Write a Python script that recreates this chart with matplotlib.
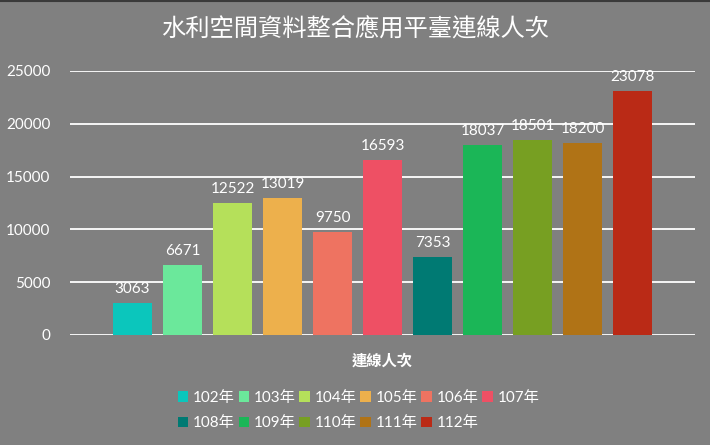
import matplotlib.pyplot as plt
from matplotlib.patches import Patch

plt.rcParams['font.family'] = ['Lato', 'Noto Sans CJK TC', 'DejaVu Sans']

# data
years = ['102年', '103年', '104年', '105年', '106年', '107年',
         '108年', '109年', '110年', '111年', '112年']
values = [3063, 6671, 12522, 13019, 9750, 16593, 7353, 18037, 18501, 18200, 23078]
colors = ['#0BC6BC', '#6BE89B', '#B5E05A', '#EDB04C', '#EE7361', '#EE5064',
          '#007A73', '#1BB657', '#779F22', '#B07316', '#BA2A16']
yticks = [0, 5000, 10000, 15000, 20000, 25000]

bg = '#808080'
fig = plt.figure(figsize=(7.1, 4.45), dpi=100, facecolor=bg)
ax = fig.add_axes([70 / 710, 110 / 445, 625 / 710, 264 / 445])
ax.set_facecolor(bg)

# gridlines behind bars
for t in yticks:
    ax.axhline(t, color='white', lw=1.3, zorder=1)

xs = list(range(len(values)))
bars = ax.bar(xs, values, width=0.78, color=colors, zorder=2)
for x, v in zip(xs, values):
    ax.annotate(str(v), (x, v), xytext=(0, 5), textcoords='offset points',
                ha='center', va='bottom', color='white', fontsize=11, zorder=3)

ax.set_xlim(-1.25, len(values) - 1 + 1.25)
ax.set_ylim(0, 25000)
ax.set_yticks(yticks)
ax.set_yticklabels([str(t) for t in yticks], color='white', fontsize=11)
ax.tick_params(axis='y', length=0, pad=14)
ax.set_xticks([])
for s in ax.spines.values():
    s.set_visible(False)

ax.set_xlabel('連線人次', color='white', fontsize=11, fontweight='bold', labelpad=14)

fig.text(0.5, 0.935, '水利空間資料整合應用平臺連線人次', ha='center', va='center',
         color='white', fontsize=17.5)

# legend, row-major order across two rows
handles = [Patch(facecolor=c, edgecolor='none') for c in colors]
order = [0, 6, 1, 7, 2, 8, 3, 9, 4, 10, 5]
leg = fig.legend([handles[i] for i in order], [years[i] for i in order],
                 ncol=6, loc='center', bbox_to_anchor=(0.505, 0.077),
                 frameon=False, fontsize=11, labelcolor='white',
                 handlelength=0.7, handleheight=0.7, handletextpad=0.3,
                 columnspacing=0.25, labelspacing=0.75)

# thin dark edge along the top
fig.add_artist(plt.Line2D([0, 1], [0.998, 0.998], color='#3a3a3a', lw=1.5))

fig.savefig('out.png', dpi=100, facecolor=bg)
